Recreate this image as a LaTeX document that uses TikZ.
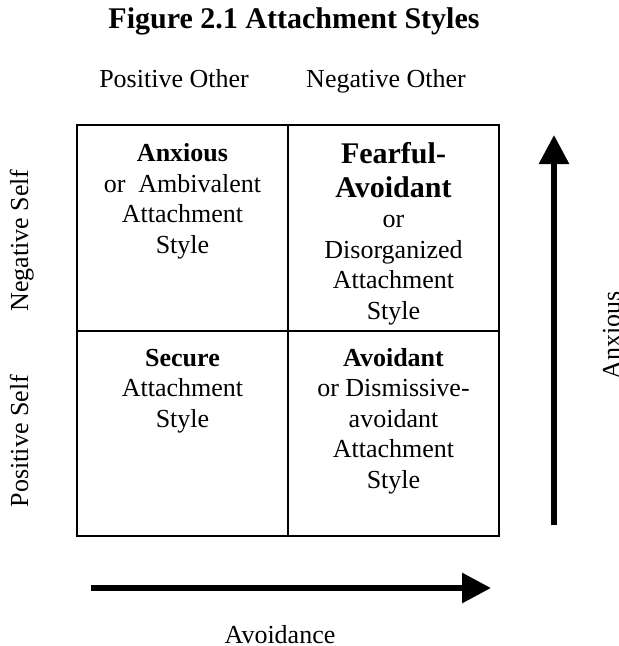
\documentclass[tikz,border=0pt]{standalone}
\usepackage{fontspec}
\setmainfont{Liberation Serif}
\usetikzlibrary{arrows.meta}
\newcommand{\bigbf}{\fontsize{30}{34}\selectfont\bfseries}

\begin{document}
\begin{tikzpicture}[x=1pt, y=1pt,
		txt/.style={font=\fontsize{26}{30.5}\selectfont, inner sep=0pt},
		cell/.style={txt, align=center, anchor=base},
		side/.style={txt, rotate=90, anchor=base},
		grid/.style={line width=1.6pt},
		axis/.style={line width=6pt, -{Triangle[length=29pt, width=29pt]}}]
	%%%%% START %%%%%
	
	\useasboundingbox (0, 0) rectangle (619, -646);
	
	\node[txt, anchor=base, font=\bigbf] (title) at (294, -28) {Figure 2.1 Attachment Styles};
	
	\node[txt, anchor=base] (posother) at (174, -87) {Positive Other};
	\node[txt, anchor=base] (negother) at (386, -87) {Negative Other};
	
	% the four quadrants
	\draw[grid] (77, -125) rectangle (499, -536);
	\draw[grid] (288, -125) -- (288, -536);
	\draw[grid] (77, -331) -- (499, -331);
	
	% base = baseline of the last line
	\node[cell] (anxious) at (182.5, -253) {\textbf{Anxious}\\or~ Ambivalent\\Attachment\\Style};
	\node[cell] (fearful) at (393.5, -319) {\bigbf Fearful-\\[3.5pt]\bigbf Avoidant\\or\\Disorganized\\Attachment\\Style};
	\node[cell] (secure) at (182.5, -427) {\textbf{Secure}\\Attachment\\Style};
	\node[cell] (avoidant) at (393.5, -488) {\textbf{Avoidant}\\or Dismissive-\\avoidant\\Attachment\\Style};
	
	\node[side] (negself) at (28, -240.5) {Negative Self};
	\node[side] (posself) at (28, -441) {Positive Self};
	
	% axes
	\coordinate (vtail) at (554, -525);
	\coordinate (vhead) at (554, -135);
	\draw[axis] (vtail) -- (vhead);
	\node[side] (anx) at (620, -335) {Anxious};
	
	\coordinate (htail) at (91, -588);
	\coordinate (hhead) at (491, -588);
	\draw[axis] (htail) -- (hhead);
	\node[txt, anchor=base] (avoid) at (280, -643) {Avoidance};
	
	%%%%% END %%%%%
\end{tikzpicture}
\end{document}
